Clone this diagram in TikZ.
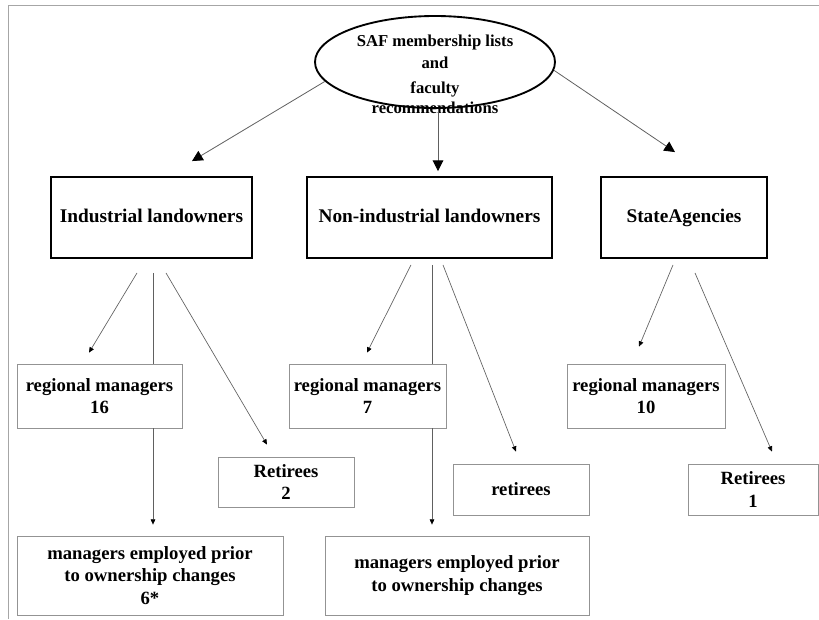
\documentclass[tikz,border=0pt]{standalone}
\usepackage{fontspec}
\setmainfont{Liberation Serif}
\usetikzlibrary{arrows.meta,calc,shapes.geometric}

\begin{document}
\begin{tikzpicture}[x=0.75pt,y=-0.75pt,font=\bfseries,
  topbox/.style={draw=black,line width=1.4pt,minimum height=60.75pt,inner sep=0pt,text height=10pt,text depth=3pt,font=\fontsize{14.5}{17}\selectfont\bfseries},
  subbox/.style={draw=gray!85,line width=0.6pt,align=center,inner sep=0pt,font=\fontsize{14}{17}\selectfont\bfseries},
  toparrow/.style={gray!75!black,line width=0.6pt,-{Triangle[length=8pt,width=8pt,color=black]}},
  subarrow/.style={gray!75!black,line width=0.5pt,-{Triangle[length=4pt,width=3.5pt,color=black]}},
  subline/.style={gray!75!black,line width=0.5pt}]
  \useasboundingbox (0,0) rectangle (819,619);
  % frame
  \draw[gray!70,line width=0.6pt] (819,5) -- (8,5) -- (8,619);
  % source of names
  \node[ellipse,draw,line width=1.4pt,minimum width=180pt,minimum height=69pt,inner sep=0pt] (src) at (435,62) {};
  \node[align=center,inner sep=0pt,font=\fontsize{12.5}{15}\selectfont\bfseries] (srctxt) at (435,74)
    {SAF membership lists\\[1.5pt] and\\[4pt] faculty\\[-0.5pt] recommendations};
  % owner groups
  \node[topbox,minimum width=150.75pt] (il) at (151.5,217.5) {Industrial landowners};
  \node[topbox,minimum width=183.75pt] (ni) at (429.5,217.5) {Non-industrial landowners};
  \node[topbox,minimum width=124.5pt] (sa) at (684,217.5) {StateAgencies};
  % industrial
  \node[subbox,minimum width=123.75pt,minimum height=48pt] (rm16) at (99.5,396) {regional managers\\16};
  \node[subbox,minimum width=102pt,minimum height=37.5pt] (ret2) at (286,482) {Retirees\\2};
  \node[subbox,minimum width=199.5pt,minimum height=59.25pt] (mep1) at (150,575.5) {managers employed prior\\to ownership changes\\6*};
  % non-industrial
  \node[subbox,minimum width=117.75pt,minimum height=48pt] (rm7) at (367.5,396) {regional managers\\7};
  \node[subbox,minimum width=102pt,minimum height=38.25pt] (retni) at (521,489.5) {retirees};
  \node[subbox,minimum width=198pt,minimum height=59.25pt] (mep2) at (457,575.5) {managers employed prior\\to ownership changes};
  % state
  \node[subbox,minimum width=118.5pt,minimum height=48pt] (rm10) at (646,396) {regional managers\\10};
  \node[subbox,minimum width=97.5pt,minimum height=38.25pt] (ret1) at (753,489.5) {Retirees\\1};
  % top arrows
  \draw[toparrow] (src.190) -- ($(il.north)+(40.5,-15)$);
  \draw[toparrow] ($(src.south)+(3,0)$) -- ($(ni.north)+(8.5,-5)$);
  \draw[toparrow] (src.-4) -- ($(sa.north)+(-9,-24)$);
  % industrial branches
  \draw[subarrow] ($(il.south)+(-14.5,14)$) -- ($(rm16.north)+(-10.5,-11)$);
  \draw[subline] ($(il.south)+(1.5,14)$) -- ($(rm16.north)+(53.5,0)$);
  \draw[subarrow] ($(rm16.south)+(53.5,0)$) -- ($(mep1.north)+(3,-11)$);
  \draw[subarrow] ($(il.south)+(14.5,14)$) -- ($(ret2.north)+(-19,-12)$);
  % non-industrial branches
  \draw[subarrow] ($(ni.south)+(-18.5,6)$) -- ($(rm7.north)+(-0.5,-11)$);
  \draw[subline] ($(ni.south)+(2.5,6)$) -- ($(rm7.north)+(64.5,0)$);
  \draw[subarrow] ($(rm7.south)+(64.5,0)$) -- ($(mep2.north)+(-25,-11)$);
  \draw[subarrow] ($(ni.south)+(13.5,6)$) -- ($(retni.north)+(-5,-12)$);
  % state branches
  \draw[subarrow] ($(sa.south)+(-11,6)$) -- ($(rm10.north)+(-7,-17)$);
  \draw[subarrow] ($(sa.south)+(11,14)$) -- ($(ret1.north)+(19,-12)$);
\end{tikzpicture}
\end{document}
